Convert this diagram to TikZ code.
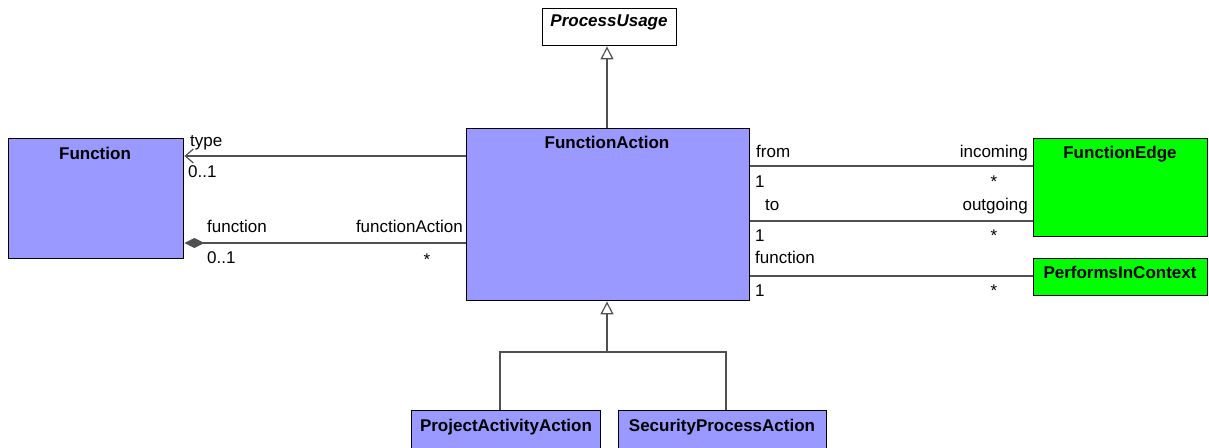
\documentclass[tikz,border=0pt]{standalone}
\usepackage{fontspec}
\setmainfont{Liberation Sans}
\usetikzlibrary{arrows.meta}
\definecolor{umlblue}{HTML}{9999FF}
\definecolor{umlgreen}{HTML}{00FF00}
\definecolor{umlline}{HTML}{505050}
\begin{document}
\begin{tikzpicture}[x=1pt,y=-1pt,
  every node/.style={font=\fontsize{17}{20}\selectfont},
  cls/.style={draw=black, line width=1.4pt, rectangle, anchor=north west, inner sep=0pt},
  ttl/.style={anchor=base, font=\fontsize{17}{20}\selectfont\bfseries, inner sep=0pt},
  lab/.style={inner sep=0pt},
  conn/.style={draw=umlline, line width=1.2pt},
  gen/.style={conn, -{Triangle[open, length=13pt, width=13pt, fill=white]}},
  nav/.style={conn, -{Straight Barb[length=8pt, width=14pt, line width=1.2pt]}},
  comp/.style={conn, -{Diamond[length=20pt, width=10pt, fill=umlline]}}
]
\useasboundingbox (0,0) rectangle (1209,447);
% classes
\node[cls, fill=white, minimum width=134pt, minimum height=37pt] (pu) at (542,8) {};
\node[ttl, font=\fontsize{17}{20}\selectfont\bfseries\itshape] (put) at (609,27) {ProcessUsage};
\node[cls, fill=umlblue, minimum width=283pt, minimum height=172pt] (fa) at (466,128) {};
\node[ttl] (fat) at (607,148) {FunctionAction};
\node[cls, fill=umlblue, minimum width=175pt, minimum height=120pt] (fn) at (8,138) {};
\node[ttl] (fnt) at (95,159) {Function};
\node[cls, fill=umlgreen, minimum width=174pt, minimum height=98pt] (fe) at (1033,138) {};
\node[ttl] (fet) at (1120,158) {FunctionEdge};
\node[cls, fill=umlgreen, minimum width=174pt, minimum height=37pt] (pic) at (1033,258) {};
\node[ttl] (pict) at (1120,278) {PerformsInContext};
\node[cls, fill=umlblue, minimum width=189pt, minimum height=50pt] (paa) at (411,410) {};
\node[ttl] (paat) at (506,431) {ProjectActivityAction};
\node[cls, fill=umlblue, minimum width=208pt, minimum height=50pt] (spa) at (618,410) {};
\node[ttl] (spat) at (722,431) {SecurityProcessAction};
% generalizations
\coordinate (j) at (607,352);
\draw[gen] (fa.north -| 607,0) -- (pu.south -| 607,0);
\draw[conn] (paa.north -| 500,0) -- (500,352) -- (726,352) -- (spa.north -| 726,0);
\draw[gen] (j) -- (fa.south -| 607,0);
% associations left
\draw[nav] (fa.west |- 0,156) -- (fn.east |- 0,156);
\draw[comp] (fa.west |- 0,243) -- (fn.east |- 0,243);
\node[lab, anchor=base west] (l1) at (190,146) {type};
\node[lab, anchor=base west] (l2) at (188,177) {0..1};
\node[lab, anchor=base west] (l3) at (207,232) {function};
\node[lab, anchor=base west] (l4) at (207,263) {0..1};
\node[lab, anchor=base east] (l5) at (463,232) {functionAction};
\node[lab, anchor=base] (l6) at (427,265) {*};
% associations right
\draw[conn] (fa.east |- 0,166) -- (fe.west |- 0,166);
\draw[conn] (fa.east |- 0,221) -- (fe.west |- 0,221);
\draw[conn] (fa.east |- 0,276) -- (pic.west |- 0,276);
\node[lab, anchor=base west] (r1) at (756,157) {from};
\node[lab, anchor=base east] (r2) at (1028,157) {incoming};
\node[lab, anchor=base west] (r3) at (755,187) {1};
\node[lab, anchor=base] (r4) at (994,187) {*};
\node[lab, anchor=base west] (r5) at (765,210) {to};
\node[lab, anchor=base east] (r6) at (1028,210) {outgoing};
\node[lab, anchor=base west] (r7) at (755,241) {1};
\node[lab, anchor=base] (r8) at (994,241) {*};
\node[lab, anchor=base west] (r9) at (755,263) {function};
\node[lab, anchor=base west] (r10) at (755,296) {1};
\node[lab, anchor=base] (r11) at (994,296) {*};
\end{tikzpicture}
\end{document}
